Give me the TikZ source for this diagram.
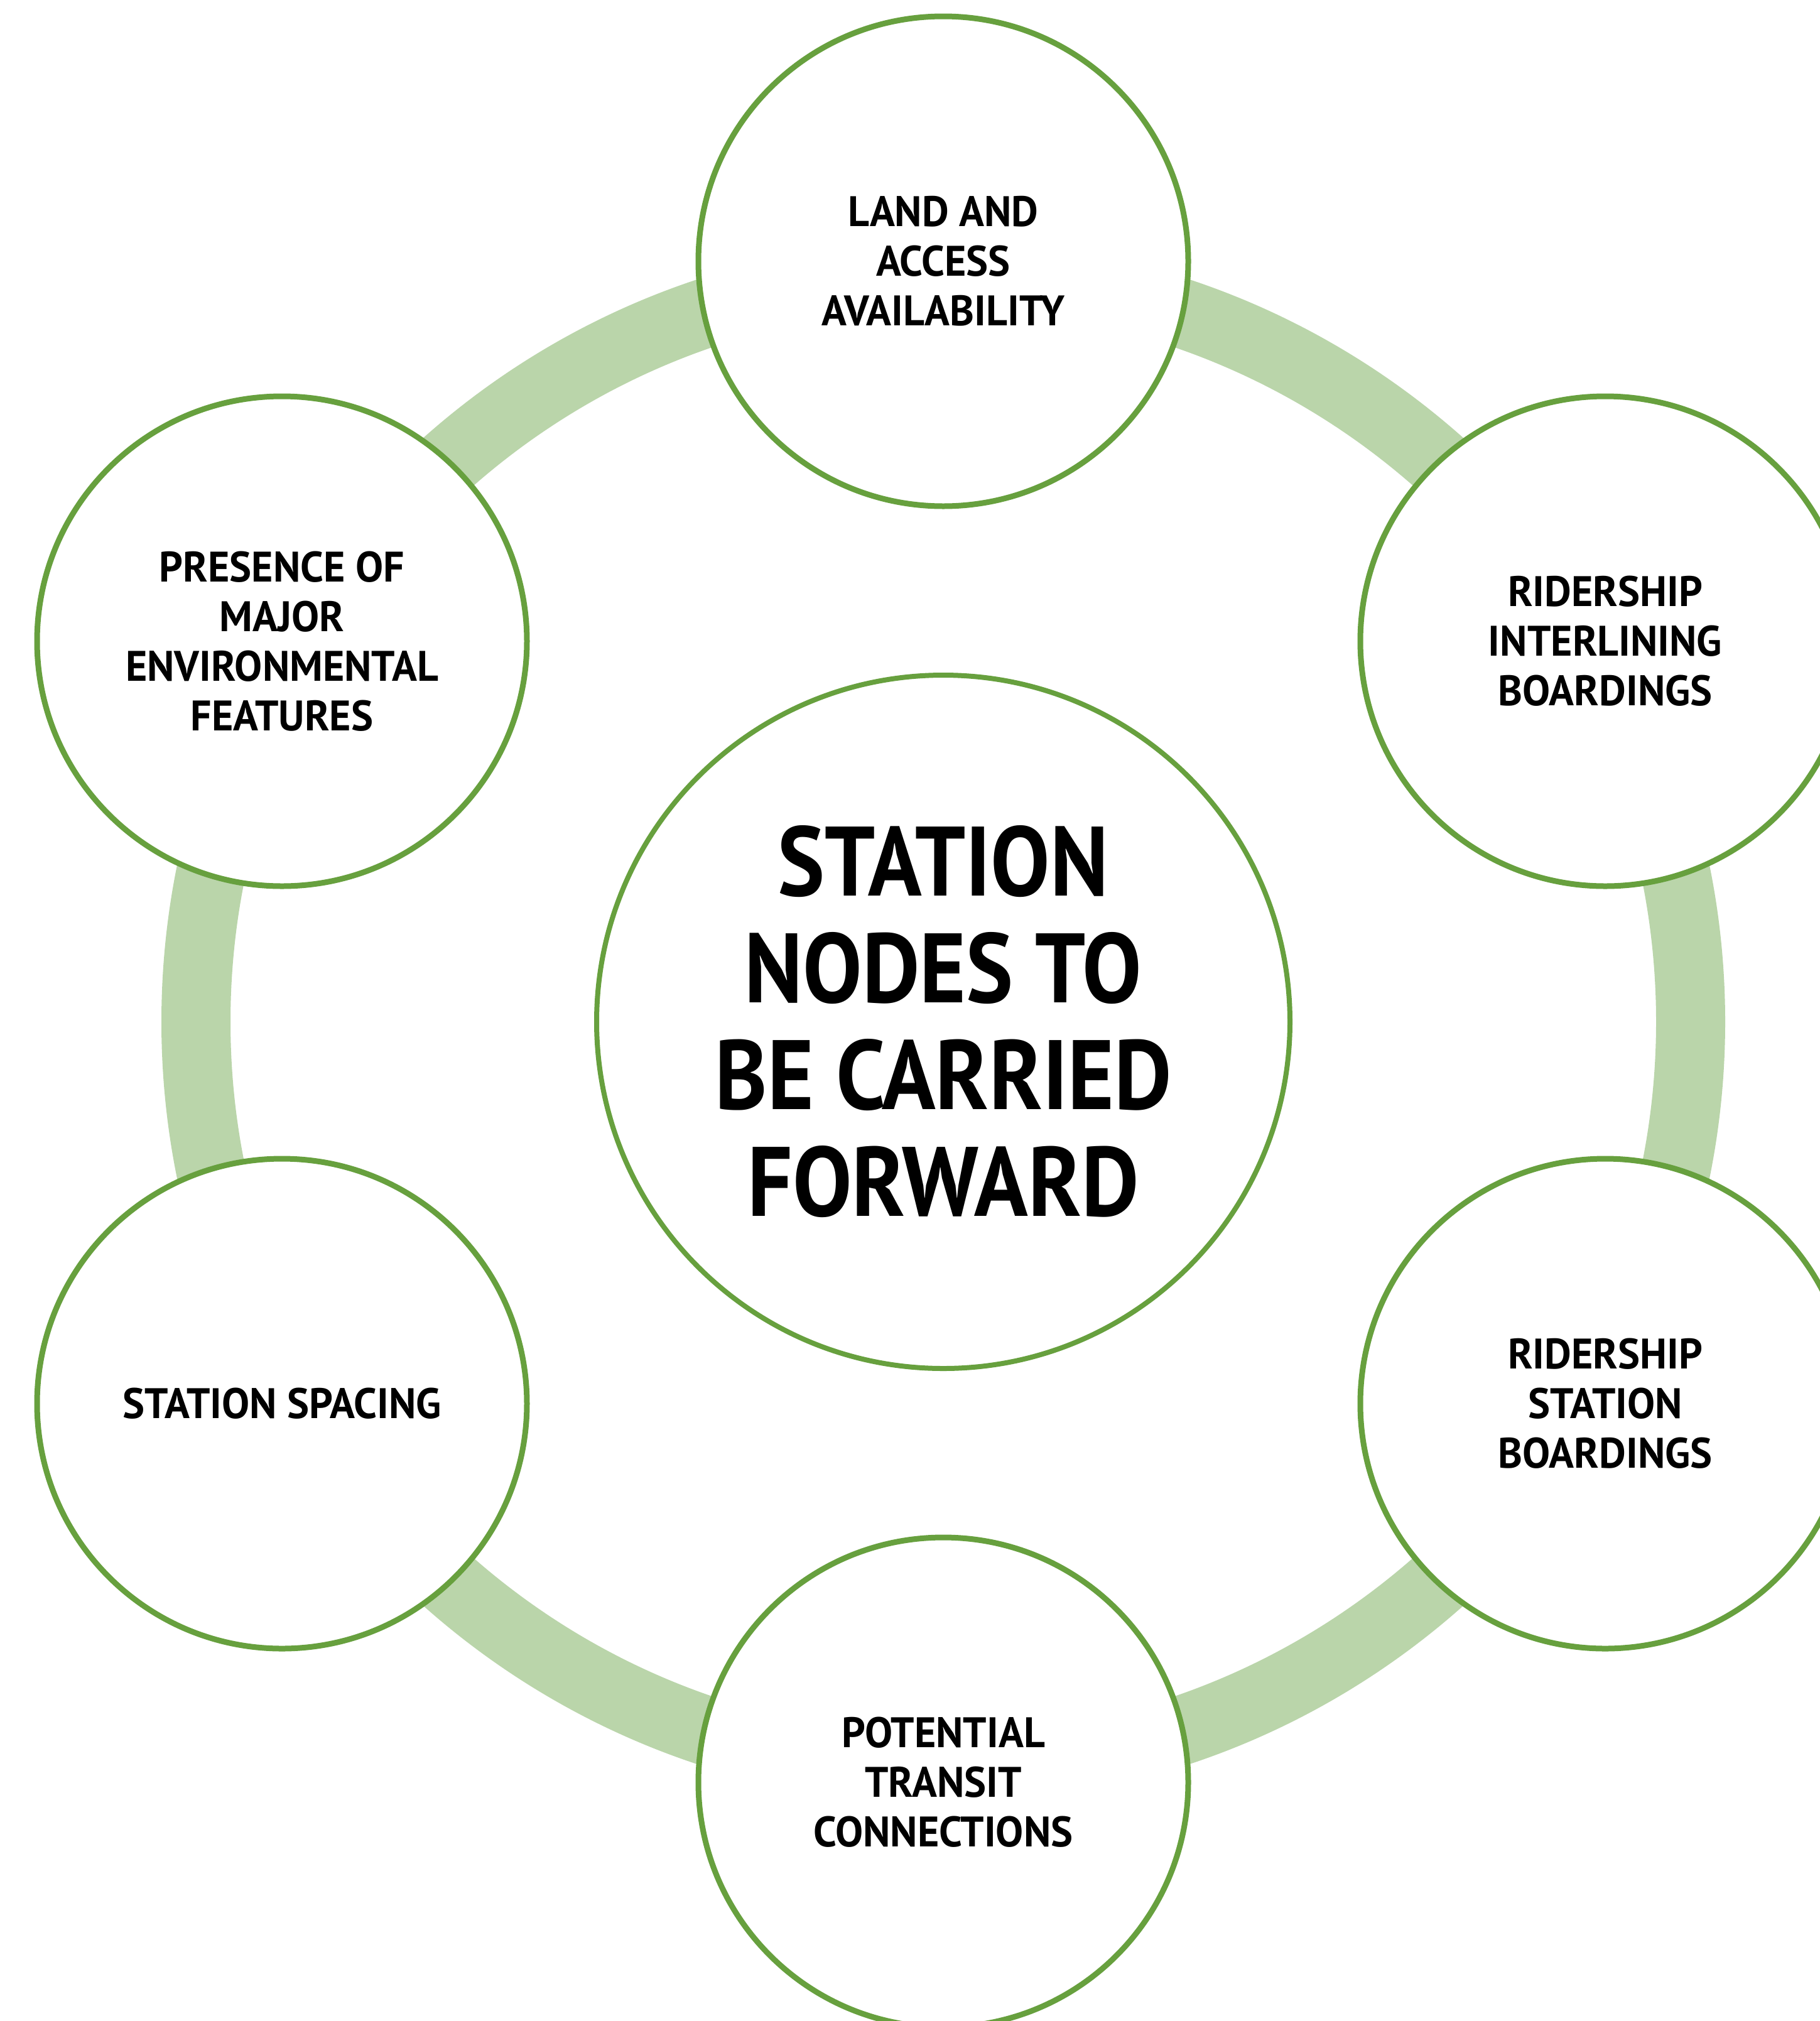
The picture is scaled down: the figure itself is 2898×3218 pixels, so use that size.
\documentclass[tikz,border=0pt]{standalone}
\usepackage{fontspec}
\newfontfamily\lblfont[FakeStretch=0.97]{PT Sans}
\newfontfamily\hubfont[FakeStretch=0.90]{PT Sans}
\definecolor{cgreen}{RGB}{103,160,62}
\definecolor{cband}{RGB}{186,213,170}
\begin{document}
\begin{tikzpicture}[x=1pt,y=-1pt,
  sat/.style={circle, draw=cgreen, line width=9pt, fill=white, minimum size=780pt, inner sep=0pt,
    align=center, font=\lblfont\bfseries\fontsize{68}{79}\selectfont},
  hub/.style={circle, draw=cgreen, line width=8pt, fill=white, minimum size=1104pt, inner sep=0pt,
    align=center, font=\hubfont\bfseries\fontsize{157}{170}\selectfont},
  ringband/.style={draw=cband, line width=110pt}]
\fill[white] (0,0) rectangle (2898,3218);
\useasboundingbox (0,0) rectangle (2898,3218);
\coordinate (c) at (1502,1627);
\draw[ringband] (c) circle[radius=1190pt];
\node[hub] (hubnode) at (c) {STATION\\NODES TO\\BE CARRIED\\FORWARD};
\node[sat] (land) at (1502,416) {LAND AND\\ACCESS\\AVAILABILITY};
\node[sat] (inter) at (2556,1021) {RIDERSHIP\\INTERLINING\\BOARDINGS};
\node[sat] (board) at (2556,2235) {RIDERSHIP\\STATION\\BOARDINGS};
\node[sat] (trans) at (1502,2838) {POTENTIAL\\TRANSIT\\CONNECTIONS};
\node[sat] (spacing) at (449,2235) {STATION SPACING};
\node[sat] (env) at (449,1021) {PRESENCE OF\\MAJOR\\ENVIRONMENTAL\\FEATURES};
\end{tikzpicture}
\end{document}
